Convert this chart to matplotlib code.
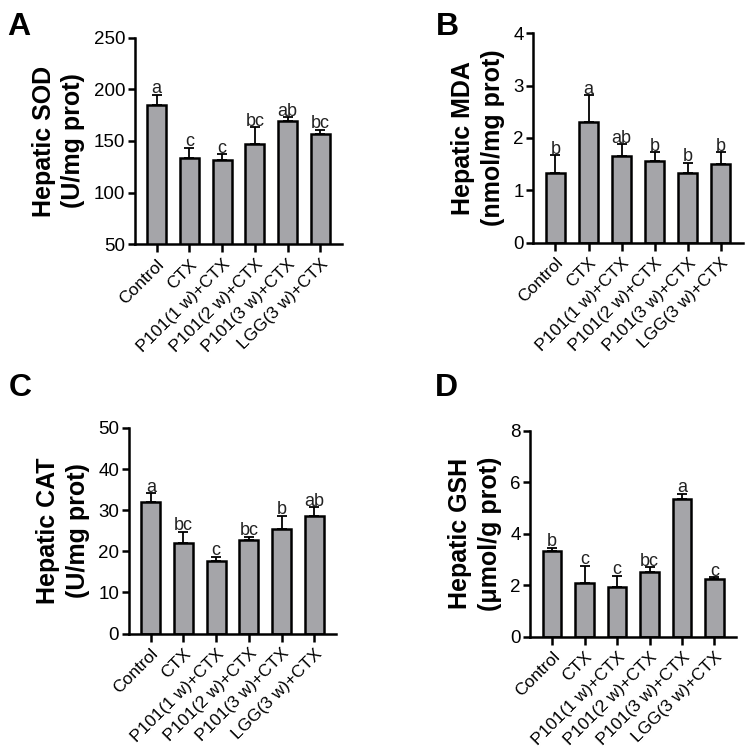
import numpy as np
import matplotlib
matplotlib.use("Agg")
import matplotlib.pyplot as plt

plt.rcParams["font.family"] = ["Liberation Sans", "DejaVu Sans"]

# =========================
# Data
# =========================

groups = ["Control", "CTX", "P101(1 w)+CTX", "P101(2 w)+CTX",
          "P101(3 w)+CTX", "LGG(3 w)+CTX"]

sod_mean = [185, 134, 132, 147, 169, 157]
sod_err = [10, 9.5, 5, 16.5, 4, 4]
sod_letters = ["a", "c", "c", "bc", "ab", "bc"]

mda_mean = [1.34, 2.30, 1.66, 1.56, 1.34, 1.51]
mda_err = [0.33, 0.52, 0.22, 0.17, 0.19, 0.22]
mda_letters = ["b", "a", "ab", "b", "b", "b"]

cat_mean = [32.1, 22.0, 17.7, 22.7, 25.3, 28.5]
cat_err = [2.0, 2.8, 1.0, 0.8, 3.3, 2.2]
cat_letters = ["a", "bc", "c", "bc", "b", "ab"]

gsh_mean = [3.32, 2.10, 1.94, 2.53, 5.34, 2.25]
gsh_err = [0.13, 0.65, 0.42, 0.17, 0.21, 0.06]
gsh_letters = ["b", "c", "c", "bc", "a", "c"]

BAR_COLOR = "#a5a5a9"

# =========================
# Panel function
# =========================

def draw_panel(ax, means, errs, letters, ylabel, ylim, yticks, label_off):
    x = np.arange(len(groups))
    ax.bar(x, means, width=0.58, color=BAR_COLOR, edgecolor="black",
           linewidth=1.8, zorder=2)
    ax.errorbar(x, means, yerr=[np.zeros(len(errs)), errs], fmt="none",
                ecolor="black", elinewidth=1.3, capsize=3.5, capthick=1.3,
                zorder=1)
    for xi, m, e, t in zip(x, means, errs, letters):
        ax.text(xi, m + e - label_off, t, ha="center", va="bottom",
                fontsize=13, color="#222222")

    ax.set_xlim(-0.67, 5.67)
    ax.set_ylim(*ylim)
    ax.set_yticks(yticks)
    ax.set_xticks(x)
    ax.set_xticklabels(groups, rotation=45, ha="right",
                       rotation_mode="anchor", fontsize=12.5)
    ax.tick_params(axis="y", labelsize=13.5, width=1.8, length=5, pad=2)
    ax.tick_params(axis="x", width=1.8, length=6, pad=3)
    ax.set_ylabel(ylabel, fontsize=18, fontweight="bold", labelpad=6,
                  linespacing=1.3)
    ax.spines["top"].set_visible(False)
    ax.spines["right"].set_visible(False)
    ax.spines["left"].set_linewidth(1.8)
    ax.spines["bottom"].set_linewidth(1.8)


fig = plt.figure(figsize=(7.49, 7.56), dpi=100)

ax_a = fig.add_axes([0.180, 0.677, 0.277, 0.273])
ax_b = fig.add_axes([0.712, 0.679, 0.280, 0.277])
ax_c = fig.add_axes([0.172, 0.162, 0.277, 0.272])
ax_d = fig.add_axes([0.708, 0.158, 0.275, 0.272])

draw_panel(ax_a, sod_mean, sod_err, sod_letters,
           "Hepatic SOD\n(U/mg prot)", (50, 250), [50, 100, 150, 200, 250], 2.5)
draw_panel(ax_b, mda_mean, mda_err, mda_letters,
           "Hepatic MDA\n(nmol/mg prot)", (0, 4), [0, 1, 2, 3, 4], 0.05)
draw_panel(ax_c, cat_mean, cat_err, cat_letters,
           "Hepatic CAT\n(U/mg prot)", (0, 50), [0, 10, 20, 30, 40, 50], 0.6)
draw_panel(ax_d, gsh_mean, gsh_err, gsh_letters,
           "Hepatic GSH\n(\u03bcmol/g prot)", (0, 8), [0, 2, 4, 6, 8], 0.1)

# panel letters
fig.text(0.010, 0.954, "A", fontsize=23, fontweight="bold", va="baseline")
fig.text(0.582, 0.954, "B", fontsize=23, fontweight="bold", va="baseline")
fig.text(0.012, 0.476, "C", fontsize=23, fontweight="bold", va="baseline")
fig.text(0.580, 0.476, "D", fontsize=23, fontweight="bold", va="baseline")

fig.savefig("out.png", dpi=100)
